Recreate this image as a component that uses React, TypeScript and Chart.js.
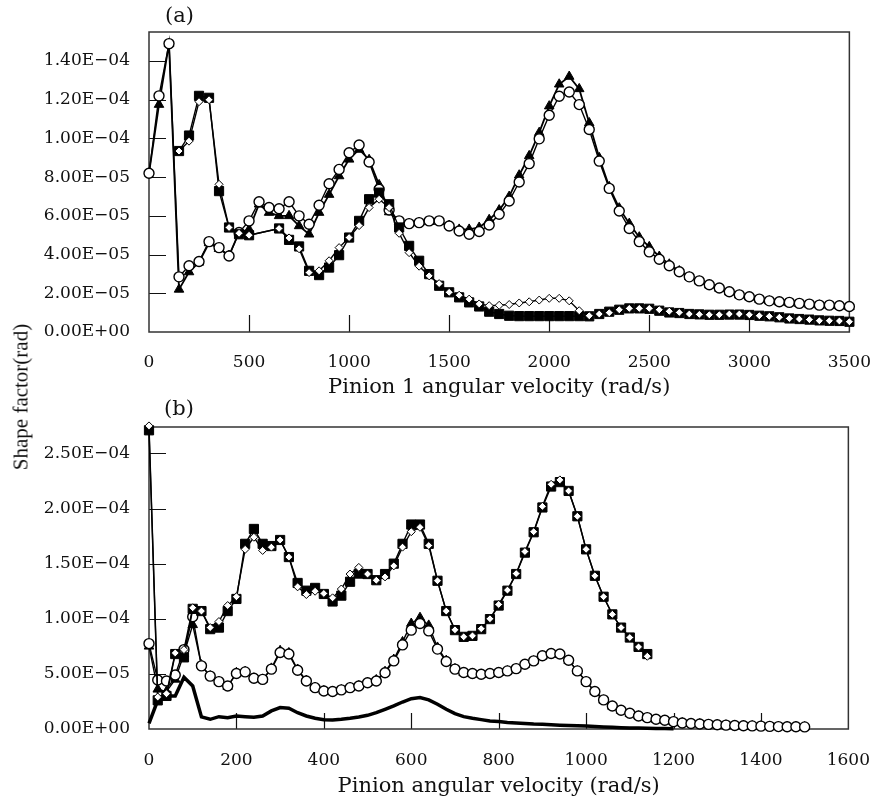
import React, { useEffect, useRef } from "react";
import { Chart, registerables } from "chart.js";

Chart.register(...registerables);

// Values are stored in units of 1e-5 rad
const UNIT = 1e-5;

// ---------------- Panel (a) ----------------
const aXCircTri = [
  0, 50, 100, 150, 200, 250, 300, 350, 400, 450,
  500, 550, 600, 650, 700, 750, 800, 850, 900, 950,
  1000, 1050, 1100, 1150, 1200, 1250, 1300, 1350, 1400, 1450,
  1500, 1550, 1600, 1650, 1700, 1750, 1800, 1850, 1900, 1950,
  2000, 2050, 2100, 2150, 2200, 2250, 2300, 2350, 2400, 2450,
  2500, 2550, 2600, 2650, 2700, 2750, 2800, 2850, 2900, 2950,
  3000, 3050, 3100, 3150, 3200, 3250, 3300, 3350, 3400, 3450,
  3500,
];
const aCircle = [
  8.2, 12.2, 14.9, 2.85, 3.42, 3.64, 4.67, 4.36, 3.93, 5.14,
  5.74, 6.73, 6.43, 6.37, 6.73, 6.0, 5.57, 6.55, 7.66, 8.4,
  9.26, 9.66, 8.78, 7.37, 6.3, 5.74, 5.6, 5.65, 5.74, 5.74,
  5.48, 5.22, 5.05, 5.19, 5.53, 6.08, 6.77, 7.75, 8.7, 9.98,
  11.2, 12.18, 12.4, 11.75, 10.46, 8.83, 7.42, 6.25, 5.35, 4.67,
  4.14, 3.76, 3.42, 3.11, 2.85, 2.64, 2.44, 2.27, 2.08, 1.92,
  1.82, 1.7, 1.61, 1.56, 1.53, 1.48, 1.44, 1.39, 1.39, 1.36,
  1.32,
];
const aTriangle = [
  8.2, 11.75, 14.9, 2.2, 3.1, 3.6, 4.6, 4.3, 3.95, 5.14,
  5.3, 6.6, 6.17, 6.0, 6.0, 5.48, 5.05, 6.17, 7.1, 8.06,
  8.92, 9.43, 8.9, 7.6, 6.2, 5.7, 5.6, 5.65, 5.7, 5.7,
  5.5, 5.3, 5.3, 5.4, 5.8, 6.3, 7.0, 8.1, 9.1, 10.3,
  11.67, 12.8, 13.2, 12.56, 10.8, 9.0, 7.5, 6.4, 5.6, 4.9,
  4.4, 3.9, 3.5, 3.15, 2.85, 2.62, 2.42, 2.25, 2.06, 1.9,
  1.8, 1.68, 1.6, 1.54, 1.5, 1.46, 1.42, 1.38, 1.37, 1.34,
  1.3,
];
const aXSqDia = [
  150, 200, 250, 300, 350, 400, 450, 500,
  650, 700, 750, 800, 850, 900, 950, 1000, 1050, 1100,
  1150, 1200, 1250, 1300, 1350, 1400, 1450, 1500, 1550, 1600,
  1650, 1700, 1750, 1800, 1850, 1900, 1950, 2000, 2050, 2100,
  2150, 2200, 2250, 2300, 2350, 2400, 2450, 2500, 2550, 2600,
  2650, 2700, 2750, 2800, 2850, 2900, 2950, 3000, 3050, 3100,
  3150, 3200, 3250, 3300, 3350, 3400, 3450, 3500,
];
const aSquare = [
  9.35, 10.15, 12.2, 12.1, 7.28, 5.4, 5.05, 5.0,
  5.35, 4.76, 4.42, 3.16, 2.94, 3.33, 3.97, 4.88, 5.74, 6.86,
  7.2, 6.6, 5.4, 4.45, 3.68, 2.99, 2.39, 2.05, 1.79, 1.53,
  1.32, 1.05, 0.93, 0.84, 0.82, 0.82, 0.82, 0.82, 0.82, 0.82,
  0.82, 0.81, 0.93, 1.05, 1.15, 1.22, 1.22, 1.2, 1.1, 1.01,
  0.98, 0.93, 0.91, 0.89, 0.89, 0.9, 0.9, 0.88, 0.84, 0.81,
  0.76, 0.7, 0.67, 0.64, 0.6, 0.58, 0.57, 0.53,
];
const aDiamond = [
  9.35, 9.86, 11.9, 12.0, 7.63, 5.4, 5.1, 5.0,
  5.35, 4.86, 4.3, 3.07, 3.16, 3.68, 4.36, 4.88, 5.5, 6.43,
  6.86, 6.43, 5.1, 4.1, 3.4, 2.9, 2.5, 2.05, 1.9, 1.7,
  1.45, 1.36, 1.38, 1.42, 1.5, 1.56, 1.65, 1.74, 1.74, 1.61,
  1.1, 0.84, 0.93, 1.0, 1.15, 1.22, 1.22, 1.22, 1.15, 1.07,
  1.01, 0.93, 0.91, 0.89, 0.89, 0.93, 0.93, 0.89, 0.84, 0.81,
  0.76, 0.7, 0.67, 0.64, 0.58, 0.58, 0.57, 0.53,
];
const aXMax = 3500;
const aXStep = 500;
const aYMax = 15.5e-5;
const aYStep = 2e-5;

// ---------------- Panel (b) ----------------
const bX = [
  0, 20, 40, 60, 80, 100, 120, 140, 160, 180,
  200, 220, 240, 260, 280, 300, 320, 340, 360, 380,
  400, 420, 440, 460, 480, 500, 520, 540, 560, 580,
  600, 620, 640, 660, 680, 700, 720, 740, 760, 780,
  800, 820, 840, 860, 880, 900, 920, 940, 960, 980,
  1000, 1020, 1040, 1060, 1080, 1100, 1120, 1140, 1160, 1180,
  1200, 1220, 1240, 1260, 1280, 1300, 1320, 1340, 1360, 1380,
  1400, 1420, 1440, 1460, 1480, 1500,
];
const bCircle = [
  7.75, 4.45, 4.36, 4.9, 7.2, 10.18, 5.73, 4.8, 4.3, 3.9,
  5.03, 5.18, 4.6, 4.5, 5.43, 6.94, 6.8, 5.33, 4.36, 3.75,
  3.45, 3.4, 3.55, 3.75, 3.9, 4.2, 4.36, 5.1, 6.18, 7.63,
  8.97, 9.57, 8.9, 7.25, 6.12, 5.43, 5.12, 5.03, 4.97, 5.03,
  5.12, 5.27, 5.48, 5.88, 6.18, 6.64, 6.85, 6.8, 6.24, 5.27,
  4.3, 3.4, 2.64, 2.09, 1.7, 1.43, 1.18, 1.03, 0.88, 0.79,
  0.67, 0.55, 0.5, 0.46, 0.42, 0.38, 0.35, 0.32, 0.3, 0.28,
  0.26, 0.24, 0.22, 0.21, 0.2, 0.19,
];
const bTriangle = [
  7.5, 3.6, 3.4, 4.5, 6.8, 9.45, 5.8, 4.8, 4.3, 3.85,
  5.1, 5.2, 4.6, 4.5, 5.5, 7.1, 6.9, 5.4, 4.4, 3.75,
  3.45, 3.4, 3.55, 3.75, 3.9, 4.2, 4.45, 5.2, 6.3, 7.9,
  9.57, 10.1, 9.4, 7.4, 6.2, 5.45, 5.1, 5.0, 4.95, 5.0,
  5.1, 5.25, 5.45, 5.85, 6.15, 6.6, 6.8, 6.75, 6.2, 5.25,
  4.3, 3.4, 2.6, 2.05, 1.68, 1.4, 1.16, 1.0, 0.86, 0.77,
  0.65, 0.54, 0.49, 0.45, 0.41, 0.37, 0.34, 0.31, 0.29, 0.27,
  0.25, 0.23, 0.21, 0.2, 0.19, 0.18,
];
const bSquare = [
  27.1, 2.6, 3.0, 6.8, 6.5, 10.9, 10.7, 9.06, 9.2, 10.7,
  11.8, 16.8, 18.15, 16.8, 16.6, 17.15, 15.6, 13.25, 12.55, 12.8,
  12.25, 11.57, 12.1, 13.36, 14.1, 14.06, 13.5, 14.06, 15.0, 16.8,
  18.55, 18.55, 16.8, 13.45, 10.7, 8.97, 8.36, 8.45, 9.06, 9.97,
  11.2, 12.55, 14.06, 16.0, 17.85, 20.1, 22.0, 22.4, 21.6, 19.3,
  16.3, 13.9, 12.0, 10.4, 9.2, 8.3, 7.45, 6.8,
];
const bDiamond = [
  27.5, 2.9, 3.2, 6.9, 7.2, 11.0, 10.7, 9.2, 9.75, 11.2,
  12.0, 16.3, 17.4, 16.2, 16.5, 17.15, 15.6, 12.9, 12.2, 12.5,
  12.3, 11.9, 12.7, 14.06, 14.66, 14.06, 13.5, 13.8, 14.8, 16.5,
  17.9, 18.3, 16.65, 13.45, 10.7, 9.0, 8.36, 8.45, 9.1, 10.0,
  11.3, 12.6, 14.1, 16.1, 17.9, 20.2, 22.2, 22.6, 21.6, 19.3,
  16.3, 13.9, 12.0, 10.4, 9.2, 8.3, 7.45, 6.6,
];
const bLine = [
  0.5, 2.6, 3.0, 3.0, 4.7, 3.9, 1.1, 0.88, 1.12, 1.03,
  1.18, 1.12, 1.06, 1.18, 1.64, 1.94, 1.88, 1.48, 1.18, 0.97,
  0.85, 0.82, 0.88, 0.97, 1.09, 1.24, 1.48, 1.79, 2.09, 2.45,
  2.75, 2.85, 2.64, 2.24, 1.79, 1.39, 1.12, 0.97, 0.85, 0.73,
  0.67, 0.6, 0.55, 0.5, 0.45, 0.42, 0.38, 0.35, 0.32, 0.29,
  0.27, 0.22, 0.18, 0.15, 0.12, 0.1, 0.08, 0.06, 0.05, 0.04,
  0.03,
];
const bXMax = 1600;
const bXStep = 200;
const bYMax = 27.4e-5;
const bYStep = 5e-5;

const aXTitle = "Pinion 1 angular velocity (rad/s)";
const bXTitle = "Pinion angular velocity (rad/s)";
const yTitle = "Shape factor(rad)";
const aLabel = "(a)";
const bLabel = "(b)";

// ---------------- helpers ----------------
const pts = (xs: number[], ys: number[]) =>
  ys.map((y, i) => ({ x: xs[i], y: y * UNIT }));

function fmtE(v: number): string {
  if (Math.abs(v) < 1e-12) return "0.00E+00";
  const [m, e] = v.toExponential(2).split("e");
  const n = parseInt(e, 10);
  const sign = n < 0 ? "\u2212" : "+";
  return `${m}E${sign}${String(Math.abs(n)).padStart(2, "0")}`;
}

const TICK_FONT = { family: "'DejaVu Serif', serif", size: 17 };
const TITLE_FONT = { family: "'DejaVu Serif', serif", size: 21 };
const INK = "#111";

const framePlugin = {
  id: "frame",
  beforeDatasetsDraw(chart: any) {
    const o = chart.options.plugins.frame || {};
    const { ctx, chartArea: a, scales } = chart;
    const xs = scales.x;
    const ys = scales.y;
    ctx.save();
    ctx.strokeStyle = "#111";
    ctx.lineWidth = 1.2;
    ctx.beginPath();
    for (const t of xs.ticks) {
      const px = Math.round(xs.getPixelForValue(t.value)) + 0.5;
      if (px <= a.left + 2 || px >= a.right - 2) continue;
      ctx.moveTo(px, a.bottom);
      ctx.lineTo(px, a.bottom - o.xLen);
    }
    for (const t of ys.ticks) {
      const py = Math.round(ys.getPixelForValue(t.value)) + 0.5;
      if (py >= a.bottom - 2 || py <= a.top + 2) continue;
      ctx.moveTo(a.left, py);
      ctx.lineTo(a.left + o.yLen, py);
    }
    ctx.stroke();
    ctx.strokeStyle = "#333";
    ctx.lineWidth = 1.5;
    ctx.strokeRect(a.left, a.top, a.right - a.left, a.bottom - a.top);
    ctx.restore();
  },
};

const base = {
  borderColor: "#000",
  pointBorderColor: "#000",
  borderWidth: 1.4,
  tension: 0,
  clip: false as any,
  fill: false,
};
const diamondStyle = {
  pointStyle: "rectRot",
  pointRadius: 4,
  pointBackgroundColor: "#fff",
  pointBorderWidth: 1,
};
const squareStyle = {
  pointStyle: "rect",
  pointRadius: 6.5,
  pointBackgroundColor: "#000",
  pointBorderWidth: 1,
};
const circleStyle = {
  pointStyle: "circle",
  pointRadius: 5,
  pointBackgroundColor: "#fff",
  pointBorderWidth: 1.4,
};
const triangleStyle = {
  pointStyle: "triangle",
  pointRadius: 5.5,
  pointBackgroundColor: "#000",
  pointBorderWidth: 1,
};

function makeOptions(p: {
  xMax: number; xStep: number; yMax: number; yStep: number; title: string;
  top: number; bottom: number; xAxisH: number; xPad: number; xLen: number; yLen: number;
}) {
  return {
    responsive: false,
    maintainAspectRatio: false,
    animation: false,
    events: [],
    devicePixelRatio: 1,
    layout: { padding: { left: 0, right: 29, top: p.top, bottom: p.bottom } },
    plugins: {
      legend: { display: false },
      tooltip: { enabled: false },
      frame: { xLen: p.xLen, yLen: p.yLen },
    },
    scales: {
      x: {
        type: "linear",
        min: 0,
        max: p.xMax,
        grid: { display: false },
        border: { display: false },
        ticks: {
          stepSize: p.xStep,
          autoSkip: false,
          maxRotation: 0,
          padding: p.xPad,
          color: INK,
          font: TICK_FONT,
          callback: (v: any) => String(v),
        },
        title: {
          display: true,
          text: p.title,
          color: INK,
          font: TITLE_FONT,
          padding: { top: 0, bottom: 0 },
        },
        afterFit: (s: any) => {
          s.height = p.xAxisH;
        },
      },
      y: {
        type: "linear",
        min: 0,
        max: p.yMax,
        grid: { display: false },
        border: { display: false },
        ticks: {
          stepSize: p.yStep,
          includeBounds: false,
          padding: 11,
          color: INK,
          font: TICK_FONT,
          callback: (v: any) => fmtE(Number(v)),
        },
        afterFit: (s: any) => {
          s.width = 149;
        },
      },
    },
  };
}

function ChartCanvas({ config, top, height }: { config: () => any; top: number; height: number }) {
  const ref = useRef<HTMLCanvasElement | null>(null);
  useEffect(() => {
    if (!ref.current) return;
    const chart = new Chart(ref.current, config());
    return () => chart.destroy();
  }, []);
  return (
    <canvas
      ref={ref}
      width={883}
      height={height}
      style={{ position: "absolute", left: 0, top, width: 883, height }}
    />
  );
}

const configA = () => ({
  type: "line",
  data: {
    datasets: [
      { ...base, ...diamondStyle, data: pts(aXSqDia, aDiamond) },
      { ...base, ...squareStyle, data: pts(aXSqDia, aSquare) },
      { ...base, ...circleStyle, data: pts(aXCircTri, aCircle) },
      { ...base, ...triangleStyle, borderWidth: 1.8, data: pts(aXCircTri, aTriangle) },
    ],
  },
  options: makeOptions({
    xMax: aXMax, xStep: aXStep, yMax: aYMax, yStep: aYStep, title: aXTitle,
    top: 32, bottom: 0, xAxisH: 68, xPad: 12, xLen: 17, yLen: 17,
  }),
  plugins: [framePlugin],
});

const configB = () => ({
  type: "line",
  data: {
    datasets: [
      { ...base, ...diamondStyle, data: pts(bX, bDiamond) },
      { ...base, ...squareStyle, data: pts(bX, bSquare) },
      { ...base, ...circleStyle, data: pts(bX, bCircle) },
      { ...base, ...triangleStyle, data: pts(bX, bTriangle) },
      { ...base, pointRadius: 0, borderWidth: 3.5, data: pts(bX, bLine) },
    ],
  },
  options: makeOptions({
    xMax: bXMax, xStep: bXStep, yMax: bYMax, yStep: bYStep, title: bXTitle,
    top: 27, bottom: 2, xAxisH: 70, xPad: 13, xLen: 16, yLen: 17,
  }),
  plugins: [framePlugin],
});

export default function App() {
  const labelStyle: React.CSSProperties = {
    position: "absolute",
    fontFamily: "'DejaVu Serif', serif",
    fontSize: 21,
    lineHeight: "21px",
    color: INK,
    whiteSpace: "nowrap",
  };
  return (
    <div style={{ position: "absolute", left: 0, top: 0, width: 883, height: 801, background: "#fff" }}>
      <ChartCanvas config={configA} top={0} height={400} />
      <ChartCanvas config={configB} top={400} height={401} />
      <div style={{ ...labelStyle, left: 165, top: 5 }}>{aLabel}</div>
      <div style={{ ...labelStyle, left: 164, top: 398 }}>{bLabel}</div>
      <div
        style={{
          position: "absolute",
          left: 21,
          top: 397,
          width: 240,
          textAlign: "center",
          fontFamily: "'Liberation Serif', serif",
          fontSize: 21,
          lineHeight: "21px",
          color: INK,
          whiteSpace: "nowrap",
          transform: "translate(-50%, -50%) rotate(-90deg)",
        }}
      >
        {yTitle}
      </div>
    </div>
  );
}
